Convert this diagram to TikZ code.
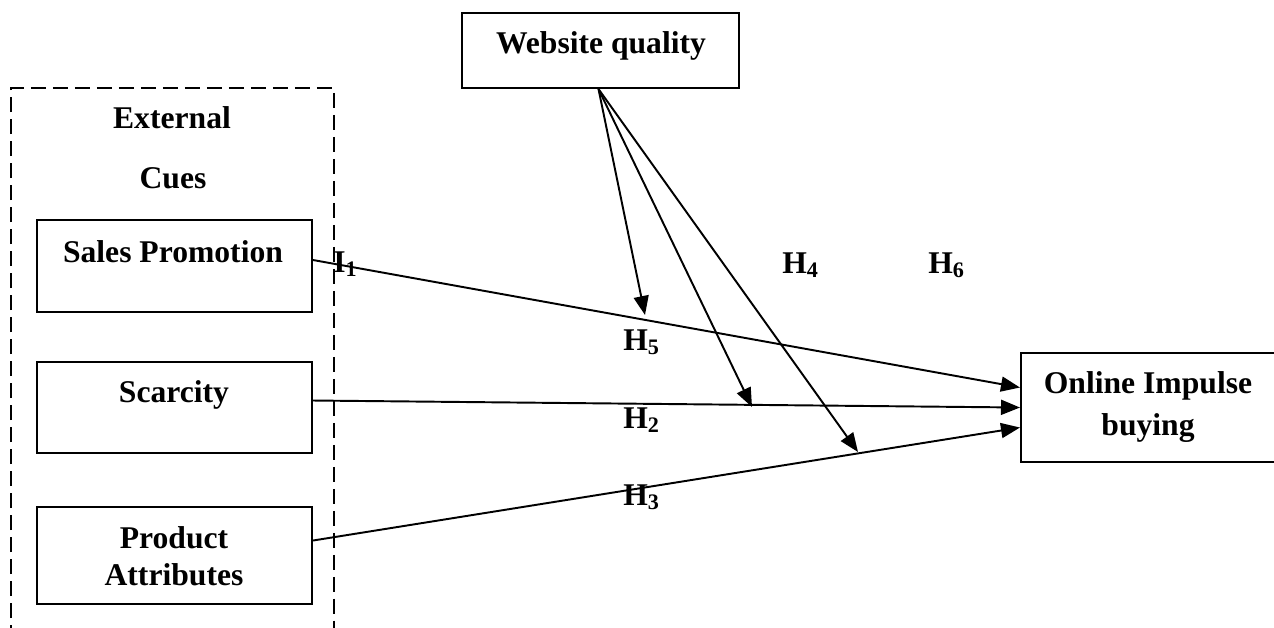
\documentclass[tikz,border=0pt]{standalone}
\usepackage{fontspec}
\setmainfont{Liberation Serif}
\usetikzlibrary{arrows.meta}
\usetikzlibrary{calc}

\begin{document}
\begin{tikzpicture}[
    x=0.02cm, y=-0.02cm,
    >={Triangle[length=0.38cm, width=0.3cm]},
    % Styles for the components
    construct/.style={rectangle, draw=black, line width=1.2pt, minimum width=5.5cm, inner sep=0pt},
    caption/.style={font=\fontsize{18}{22}\bfseries\selectfont, inner sep=0pt, anchor=base},
    hyp/.style={font=\fontsize{18}{22}\bfseries\selectfont, inner sep=0pt, anchor=base west},
    path/.style={->, line width=1.1pt}
]
    \useasboundingbox (0,0) rectangle (1274,627);

    % =========================================================================
    % 1. MODERATOR AT THE TOP
    % =========================================================================
    \node[construct, minimum width=5.54cm, minimum height=1.5cm] (wq) at (600.5, 50.5) {};
    \node[caption] (wq_text) at (601, 53) {Website quality};

    % =========================================================================
    % 2. EXTERNAL CUES (dashed group with three constructs)
    % =========================================================================
    \draw[line width=1.2pt, dash pattern=on 0.3cm off 0.14cm] (11, 640) -- (11, 88) -- (334, 88) -- (334, 640);
    \node[caption] (ext_text) at (172, 128) {External};
    \node[caption] (cues_text) at (173, 188) {Cues};

    % Sales promotion
    \node[construct, minimum height=1.84cm] (sp) at (174.5, 266) {};
    \node[caption] (sp_text) at (173, 262) {Sales Promotion};

    % Scarcity
    \node[construct, minimum height=1.82cm] (sc) at (174.5, 407.5) {};
    \node[caption] (sc_text) at (174, 402) {Scarcity};

    % Product attributes
    \node[construct, minimum height=1.94cm] (pa) at (174.5, 555.5) {};
    \node[caption] (pa_text1) at (174, 548) {Product};
    \node[caption] (pa_text2) at (174, 585) {Attributes};

    % =========================================================================
    % 3. OUTCOME
    % =========================================================================
    \node[construct, minimum width=5.1cm, minimum height=2.18cm] (ol) at (1148.5, 407.5) {};
    \node[caption] (ol_text1) at (1148, 393) {Online Impulse};
    \node[caption] (ol_text2) at (1148, 435) {buying};

    % =========================================================================
    % 4. DIRECT PATHS
    % =========================================================================
    \draw[path] ($(sp.east)+(0,-6)$) -- ($(ol.west)+(0,-20)$);
    \draw[path] ($(sc.east)+(0,-7)$) -- (ol.west);
    \draw[path] ($(pa.east)+(0,-15)$) -- ($(ol.west)+(0,20)$);

    % =========================================================================
    % 5. MODERATING PATHS (ending on the direct paths)
    % =========================================================================
    \coordinate (m_sp) at (645, 315);
    \coordinate (m_sc) at (752, 407);
    \coordinate (m_pa) at (858, 452);
    \draw[path] ($(wq.south)+(-2,0)$) -- (m_sp);
    \draw[path] ($(wq.south)+(-2,0)$) -- (m_sc);
    \draw[path] ($(wq.south)+(-2,0)$) -- (m_pa);

    % Hypothesis labels
    \node[hyp] (h1) at (333, 272) {I\textsubscript{1}};
    \node[hyp] (h4) at (782, 273) {H\textsubscript{4}};
    \node[hyp] (h6) at (928, 273) {H\textsubscript{6}};
    \node[hyp] (h5) at (623, 350) {H\textsubscript{5}};
    \node[hyp] (h2) at (623, 428) {H\textsubscript{2}};
    \node[hyp] (h3) at (623, 505) {H\textsubscript{3}};

\end{tikzpicture}
\end{document}
